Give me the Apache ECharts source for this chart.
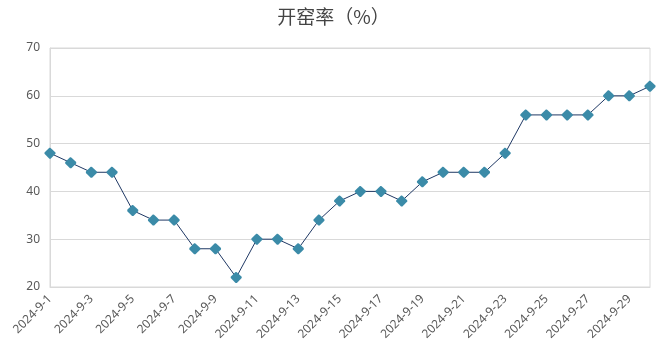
<!DOCTYPE html>
<html><head><meta charset="utf-8">
<script src="https://cdn.jsdelivr.net/npm/echarts@6/dist/echarts.min.js"></script>
<style>html,body{margin:0;padding:0;background:#fff}#c{width:667px;height:357px}</style>
</head><body><div id="c"></div>
<script>
const categories = ['2024-9-1','2024-9-2','2024-9-3','2024-9-4','2024-9-5','2024-9-6','2024-9-7','2024-9-8','2024-9-9','2024-9-10','2024-9-11','2024-9-12','2024-9-13','2024-9-14','2024-9-15','2024-9-16','2024-9-17','2024-9-18','2024-9-19','2024-9-20','2024-9-21','2024-9-22','2024-9-23','2024-9-24','2024-9-25','2024-9-26','2024-9-27','2024-9-28','2024-9-29','2024-9-30'];
const values = [48,46,44,44,36,34,34,28,28,22,30,30,28,34,38,40,40,38,42,44,44,44,48,56,56,56,56,60,60,62];
const titleText = '开窑率（%）';
const chart = echarts.init(document.getElementById('c'));
chart.setOption({
  animation:false,
  title:{text:titleText,left:'center',top:2,textStyle:{fontSize:19,fontWeight:'normal',color:'#444',fontFamily:'Noto Sans CJK SC'}},
  grid:{left:50,right:17,top:48,bottom:70,show:true,borderColor:'#d9d9d9',borderWidth:1},
  xAxis:{type:'category',data:categories,boundaryGap:false,
    axisLine:{lineStyle:{color:'#d9d9d9'}},axisTick:{show:false},
    axisLabel:{interval:1,rotate:45,color:'#595959',fontSize:12,fontFamily:'Noto Sans',margin:10},
    splitLine:{show:false}},
  yAxis:{type:'value',min:20,max:70,interval:10,
    axisLine:{show:true,lineStyle:{color:'#d9d9d9'}},axisTick:{show:false},
    axisLabel:{color:'#595959',fontSize:12,fontFamily:'Noto Sans',margin:10},
    splitLine:{lineStyle:{color:'#d9d9d9'}}},
  series:[{type:'line',data:values,symbol:'path://M0,-5 Q0.6,-5 5,-0.6 Q5,0 5,0.6 L0.6,5 Q0,5 -0.6,5 L-5,0.6 Q-5,0 -5,-0.6 L-0.6,-5 Q0,-5 0,-5 Z',symbolSize:11,
    lineStyle:{color:'#1f3864',width:1},
    itemStyle:{color:'#3b8ba8'}}]
});
</script></body></html>
